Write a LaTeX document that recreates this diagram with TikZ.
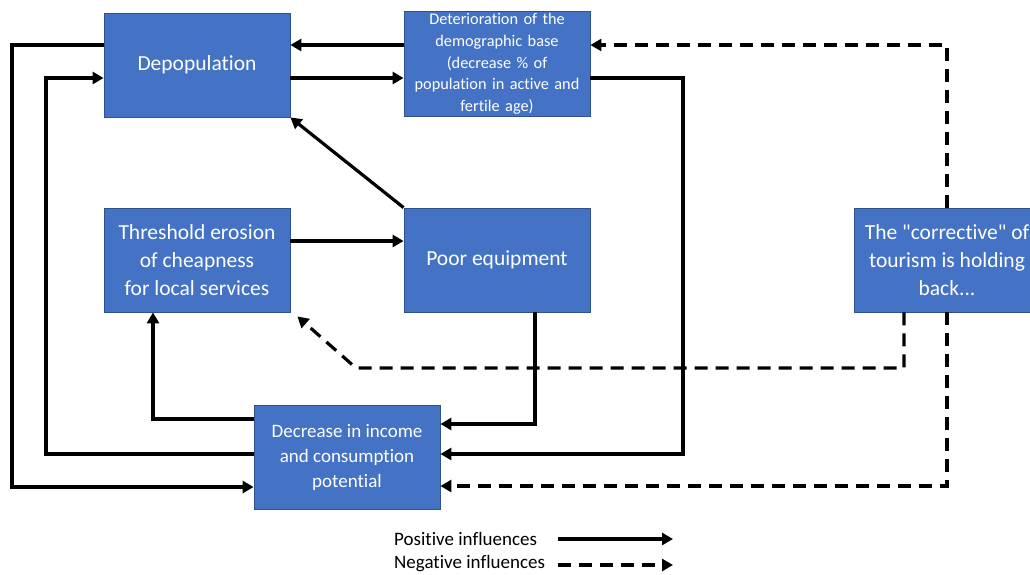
\documentclass[tikz,border=0pt]{standalone}
\usepackage{fontspec}
\setmainfont[Ligatures={TeXOff,NoCommon}]{Carlito}
\usetikzlibrary{arrows.meta}
\definecolor{boxblue}{HTML}{4472C4}
\definecolor{boxedge}{HTML}{2F528F}
\tikzset{
  box/.style={rectangle, fill=boxblue, draw=boxedge, line width=0.8pt,
    minimum width=186pt, minimum height=104pt, inner sep=2pt,
    text=white, align=center, font=\fontsize{21.5}{28}\selectfont},
  posline/.style={line width=3.2pt, line join=miter, -{Triangle[length=11pt,width=12pt]}},
  negline/.style={posline, dash pattern=on 13pt off 8pt},
  legtext/.style={anchor=west, inner sep=0pt, font=\fontsize{19}{22}\selectfont}
}
\begin{document}
\begin{tikzpicture}[x=1pt,y=-1pt]
\useasboundingbox (0,0) rectangle (1030,574);
% nodes
\node[box] (dep) at (197,65) {Depopulation};
\node[box, font=\fontsize{16.3}{21.7}\selectfont, text width=180pt] (det) at (497,64)
  {Deterioration of the\\demographic base\\(decrease \% of\\population in active and\\fertile age)};
\node[box] (thr) at (197,260) {Threshold erosion\\of cheapness\\for local services};
\node[box] (poor) at (497,260) {Poor equipment};
\node[box, font=\fontsize{19}{25}\selectfont] (dec) at (347,457) {Decrease in income\\and consumption\\potential};
\node[box] (cor) at (947,260) {The "corrective" of\\tourism is holding\\back...};
% bend coordinates
\coordinate (y45) at (0,45);
\coordinate (y78) at (0,78);
\coordinate (y241) at (0,241);
\coordinate (b5) at (535,424);
\coordinate (b6a) at (683,78);
\coordinate (b6b) at (683,454);
\coordinate (b7) at (947,486);
\coordinate (b8a) at (904,368);
\coordinate (b8b) at (356,368);
\coordinate (b9) at (947,45);
\coordinate (b10) at (153,419);
\coordinate (b11a) at (46,454);
\coordinate (b11b) at (46,78);
\coordinate (b12a) at (12,45);
\coordinate (b12b) at (12,487);
% connectors
\draw[posline] (det.west |- y45) -- (dep.east |- y45);
\draw[posline] (dep.east |- y78) -- (det.west |- y78);
\draw[posline] (poor.north west) -- (dep.south east);
\draw[posline] (thr.east |- y241) -- (poor.west |- y241);
\draw[posline] (poor.south -| b5) -- (b5) -- (dec.east |- b5);
\draw[posline] (det.east |- b6a) -- (b6a) -- (b6b) -- (dec.east |- b6b);
\draw[negline] (cor.south) -- (b7) -- (dec.east |- b7);
\draw[negline] (cor.south -| b8a) -- (b8a) -- (b8b) -- ([shift={(7,4)}]thr.south east);
\draw[negline] (cor.north) -- (b9) -- (det.east |- b9);
\draw[posline] (dec.west |- b10) -- (b10) -- (thr.south -| b10);
\draw[posline] (dec.west |- b11a) -- (b11a) -- (b11b) -- (dep.west |- b11b);
\draw[posline] (dep.west |- b12a) -- (b12a) -- (b12b) -- (dec.west |- b12b);
% legend
\node[legtext] (lp) at (394,539) {Positive influences};
\node[legtext] (ln) at (394,564) {Negative influences};
\coordinate (lpa) at (558,539);
\coordinate (lpb) at (673,539);
\coordinate (lna) at (558,565);
\coordinate (lnb) at (673,565);
\draw[posline] (lpa) -- (lpb);
\draw[negline] (lna) -- (lnb);
\end{tikzpicture}
\end{document}
